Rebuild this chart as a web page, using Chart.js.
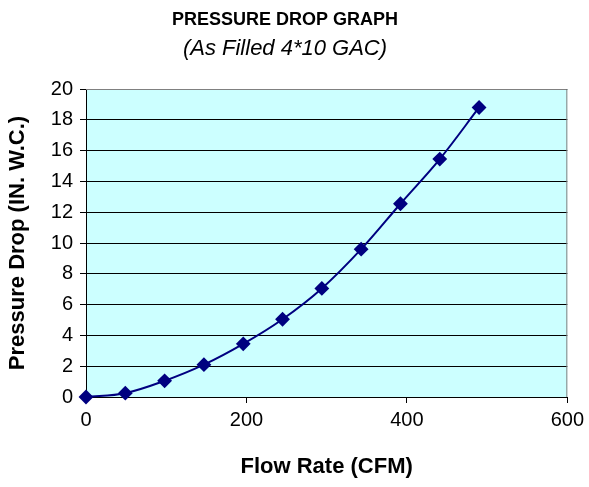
<!DOCTYPE html>
<html>
<head>
<meta charset="utf-8">
<script src="https://cdn.jsdelivr.net/npm/chart.js@4"></script>
<style>
  html, body { margin: 0; padding: 0; background: #fff; }
  #wrap { width: 589px; height: 487px; }
</style>
</head>
<body>
<div id="wrap"><canvas id="myChart" width="589" height="487"></canvas></div>
<script>
const flowRate = [0, 49, 98, 147, 196, 245, 294, 343, 392, 441, 490];
const pressureDrop = [0, 0.25, 1.05, 2.1, 3.45, 5.05, 7.05, 9.6, 12.55, 15.45, 18.8];
const yTicks = [0, 2, 4, 6, 8, 10, 12, 14, 16, 18, 20];
const xTicks = [0, 200, 400, 600];

const points = flowRate.map((x, i) => ({ x: x, y: pressureDrop[i] }));

// light cyan plot fill + grey frame on top/right
const plotBg = {
  id: 'plotBg',
  beforeDraw(chart) {
    const { ctx, chartArea: a } = chart;
    ctx.save();
    ctx.fillStyle = '#ccffff';
    ctx.fillRect(a.left, a.top, a.right - a.left, a.bottom - a.top);
    ctx.restore();
  },
  afterDatasetsDraw(chart) {
    const { ctx, chartArea: a } = chart;
    ctx.save();
    ctx.strokeStyle = '#808080';
    ctx.lineWidth = 1;
    ctx.beginPath();
    ctx.moveTo(a.left, a.top + 0.5);
    ctx.lineTo(a.right - 0.5, a.top + 0.5);
    ctx.lineTo(a.right - 0.5, a.bottom);
    ctx.stroke();
    ctx.restore();
  }
};

const font = "'Liberation Sans', Arial, sans-serif";

const config = {
  type: 'scatter',
  data: {
    datasets: [{
      label: 'Pressure Drop',
      data: points,
      showLine: true,
      tension: 0.35,
      borderColor: '#000080',
      borderWidth: 2,
      backgroundColor: '#000080',
      pointStyle: 'rectRot',
      pointRadius: 6,
      pointHoverRadius: 6,
      clip: false
    }]
  },
  options: {
    responsive: false,
    animation: false,
    layout: { padding: { left: 0, right: 19, top: 0, bottom: 0 } },
    plugins: {
      legend: { display: false },
      tooltip: { enabled: false },
      title: {
        display: true,
        text: 'PRESSURE DROP GRAPH',
        color: '#000',
        font: { family: font, size: 18, weight: 'bold' },
        padding: { top: 9, bottom: 0 }
      },
      subtitle: {
        display: true,
        text: '(As Filled 4*10 GAC)',
        color: '#000',
        font: { family: font, size: 22, style: 'italic' },
        padding: { top: 5, bottom: 27 }
      }
    },
    scales: {
      x: {
        type: 'linear',
        min: 0,
        max: 600,
        afterBuildTicks: (scale) => { scale.ticks = xTicks.map(v => ({ value: v })); },
        afterFit: (scale) => { scale.height = 90; },
        ticks: { color: '#000', font: { family: font, size: 20 }, padding: 5 },
        grid: { display: true, drawOnChartArea: false, drawTicks: true, tickLength: 6, color: '#000' },
        border: { color: '#000', width: 1 },
        title: {
          display: true,
          text: 'Flow Rate (CFM)',
          color: '#000',
          font: { family: font, size: 22, weight: 'bold' },
          padding: { top: 20, bottom: 7 }
        }
      },
      y: {
        min: 0,
        max: 20,
        afterBuildTicks: (scale) => { scale.ticks = yTicks.map(v => ({ value: v })); },
        afterFit: (scale) => { scale.width = 86; },
        ticks: { color: '#000', font: { family: font, size: 20 }, padding: 7 },
        grid: { color: '#000', drawTicks: true, tickLength: 6 },
        border: { color: '#000', width: 1 },
        title: {
          display: true,
          text: 'Pressure Drop (IN. W.C.)',
          color: '#000',
          font: { family: font, size: 22, weight: 'bold' },
          padding: { top: 5, bottom: 0 }
        }
      }
    }
  },
  plugins: [plotBg]
};

const myChart = new Chart(document.getElementById('myChart'), config);
</script>
</body>
</html>
